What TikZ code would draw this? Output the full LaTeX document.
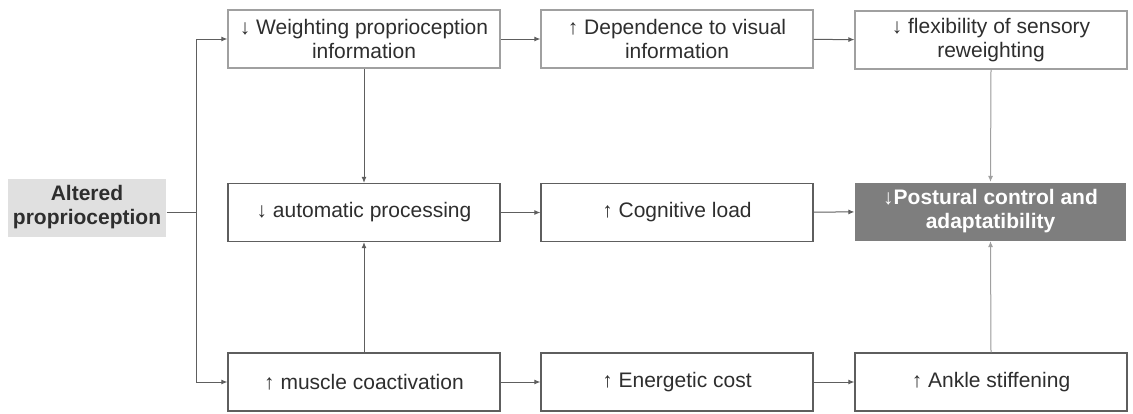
\documentclass[tikz,border=0pt]{standalone}
\usepackage{fontspec}
\setmainfont{Liberation Sans}
\usetikzlibrary{arrows.meta}
\definecolor{txtgray}{HTML}{2E2E2E}
\definecolor{darkline}{HTML}{5E5E5E}
\definecolor{lightline}{HTML}{A0A0A0}
\definecolor{altfill}{HTML}{E0E0E0}
\definecolor{outfill}{HTML}{7E7E7E}
\tikzset{
  box/.style={draw=darkline, line width=1.2pt, fill=white, minimum width=272pt,
    minimum height=58pt, inner sep=0pt, align=center,
    font=\fontsize{21}{24}\selectfont, text=txtgray},
  lightbox/.style={box, draw=lightline},
  conn/.style={draw=darkline, line width=1pt, -{Latex[length=6pt,width=5pt]}},
  lightconn/.style={conn, draw=lightline, fill=darkline}
}

\begin{document}
\begin{tikzpicture}[x=1pt,y=-1pt]
		%%%%% START %%%%%
		\useasboundingbox (0,0) rectangle (1133,413);
		
		% cause
		\node[box, draw=none, fill=altfill, minimum width=158pt, font=\bfseries\fontsize{21}{24}\selectfont] (alt) at (87,207.5) {Altered\\proprioception};
		\coordinate (split) at (196,212);
		
		% top row
		\node[lightbox] (wpi) at (364,39) {↓ Weighting proprioception\\information};
		\node[lightbox] (dvi) at (677,39) {↑ Dependence to visual\\information};
		\node[lightbox] (fsr) at (991,40) {↓ flexibility of sensory\\reweighting};
		
		% middle row
		\node[box] (ap) at (364,212.5) {↓ automatic processing};
		\node[box] (cl) at (677,212.5) {↑ Cognitive load};
		\node[box, draw=none, fill=outfill, minimum width=271pt, text=white, font=\bfseries\fontsize{21}{24}\selectfont] (pc) at (990.5,211.5) {↓Postural control and\\adaptatibility};
		
		% bottom row
		\node[box] (mc) at (364,382) {↑ muscle coactivation};
		\node[box] (ec) at (677,382) {↑ Energetic cost};
		\node[box] (as) at (991,382) {↑ Ankle stiffening};
		
		% links
		\draw[darkline, line width=1pt] (alt.east |- split) -- (split);
		\draw[conn] (split) |- (wpi.west);
		\draw[conn] (split) |- (mc.west);
		
		\draw[conn] (wpi) -- (dvi);
		\draw[conn] (dvi) -- (fsr);
		\draw[conn] (ap) -- (cl);
		\draw[conn] (cl) -- (pc);
		\draw[conn] (mc) -- (ec);
		\draw[conn] (ec) -- (as);
		
		\draw[conn] (wpi.south) -- (ap.north);
		\draw[conn] (mc.north) -- (ap.south);
		\draw[lightconn] (fsr.south) -- (pc.north);
		\draw[lightconn] (as.north) -- (pc.south);
		
		%%%%% END %%%%%
	\end{tikzpicture}
\end{document}
